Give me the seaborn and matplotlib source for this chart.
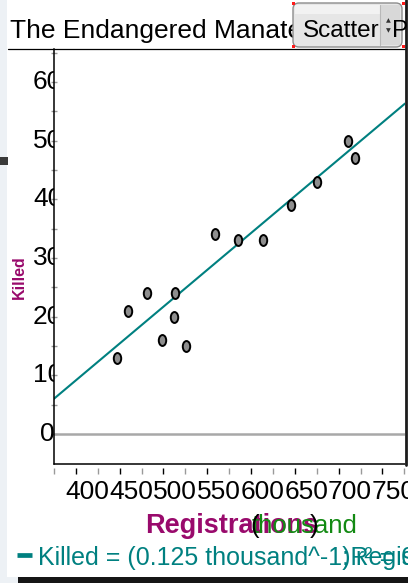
import numpy as np
import pandas as pd
import matplotlib
matplotlib.use("Agg")
import matplotlib.pyplot as plt
import matplotlib.transforms as mtransforms
from matplotlib.path import Path
from matplotlib.patches import Rectangle, FancyBboxPatch
from matplotlib.lines import Line2D
import seaborn as sns

# ---- data ----
registrations = [447, 460, 481, 498, 513, 512, 526, 559, 585, 614, 645, 675, 711, 719]
killed = [13, 21, 24, 16, 24, 20, 15, 34, 33, 33, 39, 43, 50, 47]
x_major = [400, 450, 500, 550, 600, 650, 700, 750]
x_minor = [375, 425, 475, 525, 575, 625, 675, 725, 775]
y_major = [0, 10, 20, 30, 40, 50, 60]
y_minor = [5, 15, 25, 35, 45, 55, 65]
# least-squares line as drawn in the picture
model_slope = 0.1255
model_intercept = -41.05
title_text = "The Endangered Manatee"
xlabel_text = "Registrations"
unit_text = "thousand"
ylabel_text = "Killed"
equation_text = "Killed = (0.125 thousand^-1)Registrations"
r2_text = "; r\u00b2 = 0.89"
menu_text = "Scatter"
menu_text2 = "Plot"

df = pd.DataFrame({"Registrations": registrations, "Killed": killed})

W, H = 408, 583
sns.set_theme(style="white")
plt.rcParams['font.family'] = ['Liberation Sans', 'DejaVu Sans']

PURPLE = "#990a6c"
GREEN = "#138a13"
TEAL = "#008080"
ID = mtransforms.IdentityTransform()

fig = plt.figure(figsize=(W / 100, H / 100), dpi=100)
fig.patch.set_facecolor("white")


def fx(px):
    return px / W


def fy(py):
    return 1 - py / H


def hline(x0, x1, y, **kw):
    fig.add_artist(Line2D([x0, x1], [H - y, H - y], transform=ID, **kw))


def vline(x, y0, y1, **kw):
    fig.add_artist(Line2D([x, x], [H - y0, H - y1], transform=ID, **kw))


def rect(x, y, w, h, **kw):
    fig.add_artist(Rectangle((x, H - y - h), w, h, transform=ID, **kw))


# ---- window decorations ----
rect(0, 0, 7, H, facecolor="#edf1f5", edgecolor="none", zorder=0)
rect(0, 157, 8, 8, facecolor="#3a3a3a", edgecolor="none", zorder=0)
rect(0, 577, 18, 6, facecolor="#edf1f5", edgecolor="none", zorder=0)
rect(18, 577, W - 18, 6, facecolor="#151515", edgecolor="none", zorder=0)

# ---- axes ----
ax = fig.add_axes([fx(54), fy(464), fx(405) - fx(54), fy(49) - fy(464)])
ax.set_facecolor("white")
xlim = (375, 775.7)
ylim = (-5.11, 65.6)
ax.set_xlim(*xlim)
ax.set_ylim(*ylim)

ax.axhline(0, color="#a8a8a8", lw=1.8, zorder=1)

line_df = pd.DataFrame({"Registrations": list(xlim)})
line_df["Killed"] = model_intercept + model_slope * line_df["Registrations"]
sns.lineplot(data=line_df, x="Registrations", y="Killed", ax=ax,
             color=TEAL, lw=1.5, zorder=2)

ellipse = Path.unit_circle().transformed(mtransforms.Affine2D().scale(0.68, 1.0))
sns.scatterplot(data=df, x="Registrations", y="Killed", ax=ax, marker=ellipse,
                s=62, color="#8e8e8e", edgecolor="black", linewidth=1.4,
                zorder=3, legend=False)

ax.set_xlim(*xlim)
ax.set_ylim(*ylim)
ax.set_xlabel("")
ax.set_ylabel("")
ax.grid(False)

for s in ["top", "right", "bottom"]:
    ax.spines[s].set_visible(False)
ax.spines["left"].set_color("black")
ax.spines["left"].set_linewidth(1.1)
ax.spines["bottom"].set_position(("outward", 3))

# x ticks
ax.set_xticks(x_major)
ax.set_xticklabels([str(v) for v in x_major])
ax.set_xticks(x_minor, minor=True)
ax.tick_params(axis="x", which="major", direction="out", length=4.5, width=1,
               color="black", labelsize=19, pad=3.8, bottom=True, labelcolor="black")
ax.tick_params(axis="x", which="minor", direction="out", length=4.5, width=1,
               color="#9a9a9a", bottom=True)
off = mtransforms.ScaledTranslation(0.112, 0, fig.dpi_scale_trans)
for lab in ax.get_xticklabels():
    lab.set_transform(lab.get_transform() + off)

# y ticks (labels drawn separately, clipped by the axis)
ax.set_yticks(y_major)
ax.set_yticklabels([])
ax.set_yticks(y_minor, minor=True)
ax.tick_params(axis="y", which="both", direction="inout", length=5, width=1,
               color="#9a9a9a", left=True, labelleft=False)

# bottom border of plot area
ax.plot([0, 1], [0, 0], transform=ax.transAxes, color="black", lw=1.1,
        clip_on=False, zorder=4)

ytrans = mtransforms.blended_transform_factory(fig.transFigure, ax.transData)
clipbox = mtransforms.Bbox.from_extents(0, 0, 53.5, H)
for v in y_major:
    t = fig.text(fx(47.5), v, str(v), transform=ytrans, ha="center", va="center",
                 fontsize=19, color="black", zorder=6)
    t.set_clip_box(clipbox)
    t.set_clip_on(True)

# frame lines
hline(8, 405, 49, color="black", lw=0.9, zorder=4)
vline(405.5, 0, 464.5, color="#1c1c1c", lw=2.0, zorder=6)

# ---- title and menu button ----
fig.text(fx(10), fy(38), title_text, fontsize=19, color="black",
         ha="left", va="baseline", zorder=3)

btn = FancyBboxPatch((293, H - 47), 109, 44, boxstyle="round,pad=0,rounding_size=6",
                     transform=ID, facecolor="#e6e6e6", edgecolor="#8c8c8c",
                     lw=1.0, zorder=7)
fig.add_artist(btn)
rect(295, 5, 105, 9, facecolor="#f2f2f2", edgecolor="none", zorder=7)
rect(380, 5, 20, 40, facecolor="#d8d8d8", edgecolor="none", zorder=7)
vline(380, 5, 45, color="#b8b8b8", lw=0.8, zorder=7)
fig.text(fx(303), fy(37), menu_text, fontsize=17.5, color="black",
         ha="left", va="baseline", zorder=8)
fig.text(fx(392), fy(37), menu_text2, fontsize=17.5, color="black",
         ha="left", va="baseline", zorder=8)
fig.text(fx(388), fy(21), "\u25b2", fontsize=4.5, color="#333333",
         ha="center", va="center", zorder=8, family="DejaVu Sans")
fig.text(fx(388), fy(31), "\u25bc", fontsize=4.5, color="#333333",
         ha="center", va="center", zorder=8, family="DejaVu Sans")
for (cx, cy) in [(292, 2), (402, 2), (292, 45), (402, 45)]:
    rect(cx, cy, 3, 3, facecolor="#ff1a1a", edgecolor="none", zorder=9)

# ---- axis labels ----
fig.text(fx(19), fy(277), ylabel_text, rotation=90, fontsize=11.5,
         fontweight="bold", color=PURPLE, ha="center", va="center")
fig.text(fx(145), fy(533), xlabel_text, fontsize=19.5, fontweight="bold",
         color=PURPLE, ha="left", va="baseline", zorder=3)
fig.text(fx(252), fy(533), unit_text, fontsize=18.5, color=GREEN,
         ha="left", va="baseline", zorder=4)
fig.text(fx(250), fy(533), "(", fontsize=18.5, color="black",
         ha="left", va="baseline", zorder=5)
fig.text(fx(310), fy(533), ")", fontsize=18.5, color="black",
         ha="left", va="baseline", zorder=5)

# ---- regression equation ----
hline(17, 32, 555, color=TEAL, lw=3.4, solid_capstyle="butt", zorder=4)
fig.text(fx(38), fy(565), equation_text, fontsize=18, color=TEAL,
         ha="left", va="baseline", zorder=4)
fig.text(fx(342), fy(565), r2_text, fontsize=18, color=TEAL,
         ha="left", va="baseline", zorder=4)

fig.savefig("out.png", dpi=100, facecolor="white")
